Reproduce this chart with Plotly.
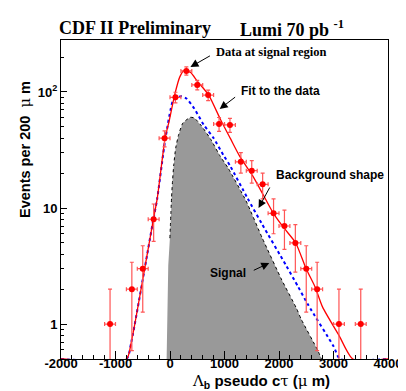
import plotly.graph_objects as go

# ---- data ----
data_x = [-1100, -700, -500, -300, -100, 100, 300, 500, 700, 900, 1100, 1300,
          1500, 1700, 1900, 2100, 2300, 2500, 2700, 3100, 3500]
data_y = [1, 2, 3, 8, 40, 90, 152, 115, 94, 53, 52, 25, 21, 16, 9, 7, 5, 3, 2, 1, 1]
data_err = [1.0, 1.41, 1.73, 2.83, 6.3, 9.5, 12.3, 10.7, 9.7, 7.3, 7.2, 5.0,
            4.6, 4.0, 3.0, 2.6, 2.2, 1.73, 1.41, 1.0, 1.0]
bin_half = [100] * len(data_x)

fit_x = [-2000, -800, -710, -465, -305, -235, -90, -20, 87, 180, 270, 380, 500,
         710, 926, 1105, 1278, 1515, 1710, 1891, 2105, 2307, 2498, 2660, 2800,
         3100, 3355, 4000]
fit_y = [0.5, 0.5, 0.7, 3, 8, 12, 40, 55, 95, 135, 155, 147, 124,
         94, 58, 40, 28, 19, 13, 9.1, 6.6, 5.0, 3.0, 2.1, 1.4,
         0.8, 0.5, 0.5]

bkg_x = [-2000, -800, -710, -465, -305, -235, -90, 55, 130, 210, 300, 445, 620,
         800, 980, 1105, 1420, 1694, 2130, 2350, 2540, 3004, 3120, 4000]
bkg_y = [0.5, 0.5, 0.7, 3, 8, 12, 38, 84, 90, 92, 88, 72, 52,
         40, 28.6, 23, 12.2, 7.2, 3.2, 2.1, 1.45, 0.64, 0.5, 0.5]

sig_x = [-62, -55, -32, -2, 28, 46, 69, 105, 159, 236, 373, 445, 564, 742, 920,
         1069, 1396, 1694, 2051, 2320, 2408, 2706, 2780]
sig_y = [0.5, 1.0, 3.2, 5.5, 12.2, 17, 23.6, 33, 43, 54, 60.5, 59.7, 52, 39.5, 28,
         22, 11.5, 5.5, 2.4, 1.37, 1.1, 0.6, 0.5]

x_ticks = [-2000, -1000, 0, 1000, 2000, 3000, 4000]
y_ticks = [1, 10, 100]
y_ticktext = ["<b>1</b>", "<b>10</b>", "<b>10</b><sup><b>2</b></sup>"]

SANS = "Liberation Sans, Arial, Helvetica, sans-serif"
SERIF = "Liberation Serif, Times New Roman, serif"

fig = go.Figure()

# signal (gray filled)
fig.add_trace(go.Scatter(x=sig_x, y=sig_y, mode="lines", fill="toself",
                         fillcolor="#999999", line=dict(width=0, color="#999999"),
                         hoverinfo="skip", showlegend=False))
fig.add_trace(go.Scatter(x=sig_x[3:], y=sig_y[3:], mode="lines",
                         line=dict(color="black", width=1, dash="dot", shape="spline", smoothing=0.5),
                         hoverinfo="skip", showlegend=False))
# background shape
fig.add_trace(go.Scatter(x=bkg_x, y=bkg_y, mode="lines",
                         line=dict(color="#0000ff", width=2, dash="dot", shape="spline", smoothing=0.6),
                         hoverinfo="skip", showlegend=False))
# fit
fig.add_trace(go.Scatter(x=fit_x, y=fit_y, mode="lines",
                         line=dict(color="#ff0000", width=1.3, shape="spline", smoothing=0.6),
                         hoverinfo="skip", showlegend=False))
# data
fig.add_trace(go.Scatter(x=data_x, y=data_y, mode="markers",
                         marker=dict(color="#ff0000", size=6, symbol="circle"),
                         error_y=dict(type="data", array=data_err, color="#ff5555",
                                      thickness=1.2, width=2),
                         error_x=dict(type="data", array=bin_half, color="#ff5555",
                                      thickness=1.2, width=2),
                         showlegend=False))

W, H = 406, 391
L, R, T, B = 53, 17, 32, 40
PW, PH = W - L - R, H - T - B


def px(xp):
    return (xp - L) / PW


def py(yp):
    return (H - B - yp) / PH


annos = []


def text(t, xp, yp, size, family=SANS, angle=0):
    annos.append(dict(text=t, x=px(xp), y=py(yp), xref="paper", yref="paper",
                      showarrow=False, xanchor="center", yanchor="middle",
                      textangle=angle, font=dict(family=family, size=size, color="black")))


def arrow(tail, tip):
    annos.append(dict(text="", x=px(tip[0]), y=py(tip[1]), xref="paper", yref="paper",
                      showarrow=True, ax=tail[0] - tip[0], ay=tail[1] - tip[1],
                      axref="pixel", ayref="pixel",
                      arrowhead=2, arrowsize=1.6, arrowwidth=1, arrowcolor="black"))


text("<b>CDF II Preliminary</b>", 129, 20, 18, SERIF)
text("<b>Lumi 70 pb</b> <sup><b>-1</b></sup>", 290, 20, 18, SERIF)
text("<b>Data at signal region</b>", 269, 44, 12.5, SERIF)
text("<b>Fit to the data</b>", 279, 83, 12)
text("<b>Background shape</b>", 329, 167, 12)
text("<b>Signal</b>", 225, 265, 12)
text("<b>Events per 200</b>  <span style='font-family:DejaVu Serif'>μ</span> <b>m</b>",
     16, 141, 14.5, angle=-90)
text("<span style='font-family:DejaVu Serif'>Λ</span><sub><b>b</b></sub> <b>pseudo c</b>"
     "<span style='font-family:DejaVu Serif'>τ</span> <b>(</b>"
     "<span style='font-family:DejaVu Serif'>μ</span> <b>m)</b>", 259, 373, 15)

arrow((207, 47), (186, 59))
arrow((233, 88), (216, 101))
arrow((268, 178), (256, 200))
arrow((250, 263), (267, 255))

fig.update_layout(
    width=W, height=H,
    margin=dict(l=L, r=R, t=T, b=B, pad=0),
    paper_bgcolor="white", plot_bgcolor="white",
    showlegend=False,
    annotations=annos,
    font=dict(family=SANS, size=13, color="black"),
)
fig.update_xaxes(range=[-2000, 4000], tickmode="array", tickvals=x_ticks,
                 ticktext=[f"<b>{v}</b>" for v in x_ticks],
                 ticks="inside", ticklen=8, tickwidth=1, tickcolor="black",
                 ticklabelstandoff=-8,
                 minor=dict(ticks="inside", ticklen=4, dtick=200, tick0=0, tickcolor="black"),
                 showline=True, linecolor="black", linewidth=1, mirror=True,
                 showgrid=False, zeroline=False,
                 tickfont=dict(family=SANS, size=13, color="black"))
fig.update_yaxes(type="log", range=[-0.301, 2.448], tickmode="array", tickvals=y_ticks,
                 ticktext=y_ticktext,
                 ticks="inside", ticklen=6, tickwidth=1, tickcolor="black",
                 minor=dict(ticks="inside", ticklen=3, tickmode="array",
                            tickvals=[0.6, 0.7, 0.8, 0.9, 2, 3, 4, 5, 6, 7, 8, 9,
                                      20, 30, 40, 50, 60, 70, 80, 90, 200],
                            tickcolor="black"),
                 showline=True, linecolor="black", linewidth=1, mirror=True,
                 showgrid=False, zeroline=False,
                 tickfont=dict(family=SANS, size=13, color="black"))

fig.write_html("out.html")
